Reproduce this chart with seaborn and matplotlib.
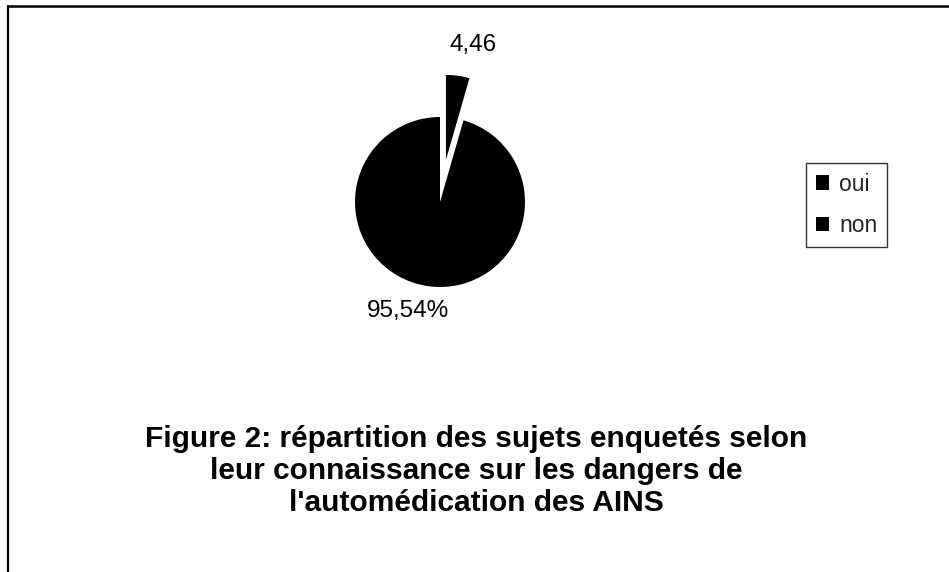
import matplotlib
matplotlib.use("Agg")
import matplotlib.pyplot as plt
from matplotlib.lines import Line2D
import numpy as np
import seaborn as sns

categories = ["oui", "non"]
values = [4.46, 95.54]
value_labels = ["4,46", "95,54%"]
title = ("Figure 2: répartition des sujets enquetés selon\n"
         "leur connaissance sur les dangers de\n"
         "l'automédication des AINS")

sns.set_theme(style="white")
plt.rcParams["font.family"] = ["Liberation Sans", "DejaVu Sans"]

W, H = 949, 572
fig = plt.figure(figsize=(W / 100, H / 100), dpi=100)
fig.patch.set_facecolor("white")
ax = fig.add_axes([0, 0, 1, 1])

R = 85
cx, cy = 440, H - 202
colors = ["black", "black"]
wedges, _ = ax.pie(values, colors=colors, startangle=90, counterclock=False,
                   explode=[0.5 * R, 0], radius=R, center=(cx, cy),
                   wedgeprops=dict(linewidth=0, edgecolor="white"))
ax.set_xlim(0, W)
ax.set_ylim(0, H)
ax.set_aspect("equal")
ax.axis("off")

# label offsets from the pie centre, in radius units
label_offsets = [(0.39, 1.85), (-0.38, -1.28)]
for lab, (dx, dy) in zip(value_labels, label_offsets):
    ax.text(cx + dx * R, cy + dy * R, lab, ha="center", va="center",
            fontsize=17.5, color="black")

leg = ax.legend(wedges, categories, loc="upper left",
                bbox_to_anchor=(806 / W, 1 - 163 / H), bbox_transform=fig.transFigure,
                fontsize=16.5, frameon=True, fancybox=False, handlelength=0.6,
                handleheight=0.6, labelspacing=0.8, handletextpad=0.42,
                borderpad=0.42, borderaxespad=0)
leg.get_frame().set_edgecolor("black")
leg.get_frame().set_linewidth(1)

fig.text(476 / W, 1 - 471 / H, title, ha="center", va="center",
         multialignment="center", fontsize=21.5, fontweight="bold",
         linespacing=1.17, color="black")

# page borders
fig.add_artist(Line2D([8 / W, 1], [1 - 6 / H, 1 - 6 / H], transform=fig.transFigure,
                      color="black", linewidth=1.8))
fig.add_artist(Line2D([8 / W, 8 / W], [0, 1 - 6 / H], transform=fig.transFigure,
                      color="black", linewidth=1.6))

fig.savefig("out.png", dpi=100, facecolor="white")
